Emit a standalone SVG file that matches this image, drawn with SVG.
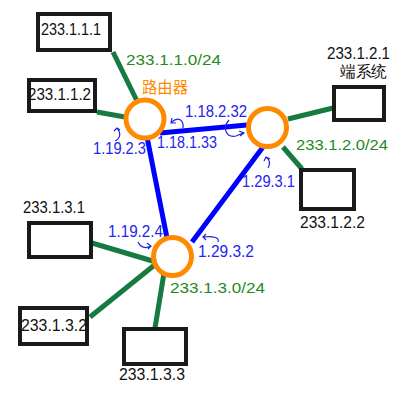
<svg xmlns="http://www.w3.org/2000/svg" width="400" height="400" viewBox="0 0 400 400">
<style>
.box{fill:none;stroke:#1a1a1a;stroke-width:4}
.lbl{font-family:"Liberation Sans",Arial,sans-serif;fill:#111;font-size:16px}
.gl{stroke:#177a40;stroke-width:5;fill:none}
.bl{stroke:#0000ff;stroke-width:5;fill:none}
.rt{fill:none;stroke:#ff8a00;stroke-width:5}
.gt{font-family:"Liberation Sans",Arial,sans-serif;fill:#1f8a22;font-size:15.5px}
.bt{font-family:"Liberation Sans",Arial,sans-serif;fill:#2424f0;font-size:17px}
.ar{stroke:#2020e0;stroke-width:1.2;fill:none}
</style>
<g id="connectors">
<line class="gl" x1="113" y1="52" x2="137" y2="101"/>
<line class="gl" x1="97" y1="112" x2="125" y2="117"/>
<line class="gl" x1="288" y1="119" x2="333" y2="108"/>
<line class="gl" x1="283" y1="147" x2="302" y2="169"/>
<line class="gl" x1="92" y1="243" x2="156" y2="262"/>
<line class="gl" x1="90" y1="317" x2="157" y2="263"/>
<line class="gl" x1="155" y1="328" x2="164" y2="273"/>
<line class="bl" x1="160" y1="133" x2="247" y2="125"/>
<line class="bl" x1="147" y1="137" x2="167" y2="238"/>
<line class="bl" x1="263" y1="147" x2="192" y2="242"/>
</g>
<g id="n233-1-1-1"><rect class="box" x="38" y="14" width="72" height="36"/><text class="lbl" x="41" y="35" textLength="60" lengthAdjust="spacingAndGlyphs">233.1.1.1</text></g>
<g id="n233-1-1-2"><rect class="box" x="29" y="80" width="66" height="31"/><text class="lbl" x="28" y="100" textLength="63" lengthAdjust="spacingAndGlyphs">233.1.1.2</text></g>
<g id="n233-1-2-1"><rect class="box" x="334" y="87" width="50" height="33"/><text class="lbl" x="327" y="59" textLength="63" lengthAdjust="spacingAndGlyphs">233.1.2.1</text><text class="lbl" x="340" y="77" textLength="47" lengthAdjust="spacingAndGlyphs" font-family="'Liberation Sans','Noto Sans CJK SC',sans-serif">端系统</text></g>
<g id="n233-1-2-2"><rect class="box" x="301" y="170" width="53" height="39"/><text class="lbl" x="300" y="228" textLength="65" lengthAdjust="spacingAndGlyphs">233.1.2.2</text></g>
<g id="n233-1-3-1"><rect class="box" x="29" y="223" width="62" height="34"/><text class="lbl" x="23" y="213" textLength="62" lengthAdjust="spacingAndGlyphs">233.1.3.1</text></g>
<g id="n233-1-3-2"><rect class="box" x="20" y="308" width="67" height="36"/><text class="lbl" x="21" y="331" textLength="66" lengthAdjust="spacingAndGlyphs">233.1.3.2</text></g>
<g id="n233-1-3-3"><rect class="box" x="124" y="329" width="62" height="35"/><text class="lbl" x="119" y="380" textLength="66" lengthAdjust="spacingAndGlyphs">233.1.3.3</text></g>
<g id="router1"><circle class="rt" cx="145" cy="119" r="19"/><text x="142" y="93" font-size="16" textLength="46" lengthAdjust="spacingAndGlyphs" fill="#ff8a00" font-family="'Liberation Sans','Noto Sans CJK SC',sans-serif">路由器</text></g>
<g id="router2"><circle class="rt" cx="267.5" cy="127.5" r="19"/></g>
<g id="router3"><circle class="rt" cx="172.5" cy="256.5" r="19"/></g>
<g id="labels">
<text class="gt" x="126" y="65" textLength="95" lengthAdjust="spacingAndGlyphs">233.1.1.0/24</text>
<text class="gt" x="296" y="150" textLength="92" lengthAdjust="spacingAndGlyphs">233.1.2.0/24</text>
<text class="gt" x="170" y="293" textLength="95" lengthAdjust="spacingAndGlyphs">233.1.3.0/24</text>
<text class="bt" x="93" y="154" textLength="53" lengthAdjust="spacingAndGlyphs">1.19.2.3</text>
<text class="bt" x="157" y="148" textLength="60" lengthAdjust="spacingAndGlyphs">1.18.1.33</text>
<text class="bt" x="185" y="117" textLength="62" lengthAdjust="spacingAndGlyphs">1.18.2.32</text>
<text class="bt" x="242" y="187" textLength="53" lengthAdjust="spacingAndGlyphs">1.29.3.1</text>
<text class="bt" x="198" y="257" textLength="56" lengthAdjust="spacingAndGlyphs">1.29.3.2</text>
<text class="bt" x="108" y="237" textLength="55" lengthAdjust="spacingAndGlyphs">1.19.2.4</text>
</g>
<g id="arrows">
<path class="ar" d="M115,141 C121,138 121,133 117,128 M114,131 L117,128 L120,130"/>
<path class="ar" d="M183,128 C184,120 178,116 172,122 M172,118 L171,123 L176,123"/>
<path class="ar" d="M229,120 C222,128 226,138 236,136 L243,133 M239,131 L244,133 L240,136"/>
<path class="ar" d="M268,168 C271,163 270,160 266,157 M264,161 L266,157 L270,159"/>
<path class="ar" d="M218,242 C220,237 212,236 203,237 M206,234 L203,237 L206,240"/>
<path class="ar" d="M138,242 C141,248 145,249 151,246 M147,243 L151,246 L148,249"/>
</g>
</svg>
